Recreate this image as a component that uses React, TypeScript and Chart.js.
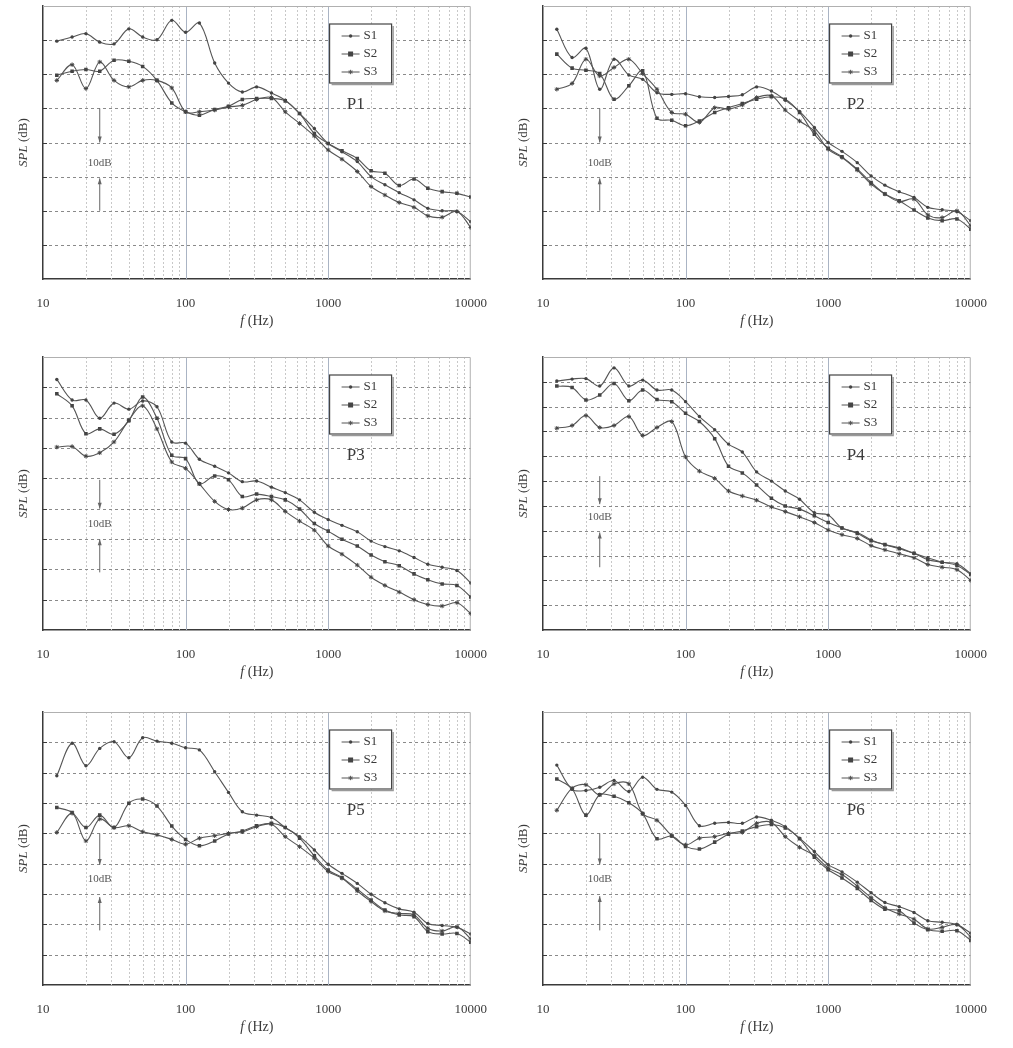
import React, { useEffect, useRef } from "react";
import { Chart, registerables } from "chart.js";
Chart.register(...registerables);

const FREQ = [12.5, 16, 20, 25, 31.5, 40, 50, 63, 80, 100, 125, 160, 200, 250, 315, 400, 500, 630, 800, 1000, 1250, 1600, 2000, 2500, 3150, 4000, 5000, 6300, 8000, 10000];
const X_TICKS = [10, 20, 30, 40, 50, 60, 70, 80, 90, 100, 200, 300, 400, 500, 600, 700, 800, 900, 1000, 2000, 3000, 4000, 5000, 6000, 7000, 8000, 9000, 10000];
const SERIES_NAMES = ["S1", "S2", "S3"];
const PANEL_NAMES = ["P1", "P2", "P3", "P4", "P5", "P6"];
const Y_MAX = [8, 8, 9, 11, 9, 9];

const P1_S1 = [6.97, 7.09, 7.19, 6.94, 6.89, 7.33, 7.09, 7.01, 7.58, 7.23, 7.5, 6.33, 5.74, 5.48, 5.63, 5.45, 5.24, 4.85, 4.41, 3.97, 3.73, 3.44, 3.0, 2.76, 2.53, 2.32, 2.07, 2.0, 1.98, 1.68];
const P1_S2 = [5.97, 6.09, 6.14, 6.09, 6.41, 6.38, 6.23, 5.82, 5.16, 4.9, 4.8, 4.97, 5.06, 5.26, 5.29, 5.29, 5.22, 4.85, 4.26, 3.97, 3.76, 3.53, 3.17, 3.1, 2.74, 2.93, 2.66, 2.56, 2.51, 2.4];
const P1_S3 = [5.82, 6.28, 5.58, 6.36, 5.82, 5.63, 5.82, 5.82, 5.6, 4.9, 4.9, 4.95, 5.04, 5.09, 5.26, 5.32, 4.9, 4.56, 4.19, 3.78, 3.51, 3.15, 2.71, 2.46, 2.24, 2.1, 1.85, 1.81, 1.98, 1.51];

const P2_S1 = [7.32, 6.49, 6.76, 5.56, 6.44, 5.98, 5.85, 5.46, 5.41, 5.43, 5.34, 5.32, 5.35, 5.4, 5.63, 5.51, 5.24, 4.91, 4.44, 4.0, 3.74, 3.41, 3.02, 2.75, 2.56, 2.39, 2.1, 2.03, 1.97, 1.71];
const P2_S2 = [6.59, 6.18, 6.12, 6.02, 5.27, 5.66, 6.1, 4.71, 4.65, 4.49, 4.63, 4.88, 5.02, 5.14, 5.27, 5.34, 5.27, 4.88, 4.24, 3.83, 3.58, 3.22, 2.83, 2.49, 2.29, 2.02, 1.79, 1.71, 1.76, 1.46];
const P2_S3 = [5.56, 5.73, 6.44, 5.95, 6.2, 6.44, 6.02, 5.56, 4.88, 4.83, 4.59, 5.02, 4.98, 5.1, 5.32, 5.37, 4.95, 4.63, 4.34, 3.8, 3.56, 3.19, 2.78, 2.49, 2.27, 2.34, 1.88, 1.8, 2.0, 1.56];

const P3_S1 = [8.26, 7.58, 7.58, 6.98, 7.48, 7.28, 7.55, 7.36, 6.2, 6.16, 5.63, 5.4, 5.18, 4.89, 4.91, 4.71, 4.53, 4.29, 3.88, 3.64, 3.45, 3.24, 2.93, 2.75, 2.61, 2.39, 2.17, 2.07, 1.96, 1.55];
const P3_S2 = [7.79, 7.39, 6.47, 6.63, 6.45, 6.9, 7.68, 6.98, 5.76, 5.65, 4.82, 5.08, 4.95, 4.4, 4.48, 4.4, 4.29, 3.99, 3.51, 3.26, 2.99, 2.77, 2.47, 2.25, 2.12, 1.85, 1.66, 1.52, 1.47, 1.09];
const P3_S3 = [6.03, 6.05, 5.73, 5.84, 6.2, 6.92, 7.39, 6.63, 5.54, 5.33, 4.82, 4.24, 3.97, 4.02, 4.29, 4.29, 3.91, 3.59, 3.29, 2.77, 2.5, 2.14, 1.74, 1.47, 1.25, 1.0, 0.84, 0.79, 0.9, 0.54];

const P4_S1 = [10.03, 10.11, 10.13, 9.83, 10.56, 9.83, 10.07, 9.67, 9.67, 9.2, 8.6, 8.07, 7.49, 7.17, 6.37, 6.0, 5.6, 5.27, 4.73, 4.63, 4.11, 3.93, 3.63, 3.44, 3.31, 3.09, 2.91, 2.73, 2.67, 2.27];
const P4_S2 = [9.83, 9.77, 9.27, 9.47, 9.93, 9.24, 9.67, 9.29, 9.2, 8.73, 8.4, 7.71, 6.6, 6.33, 5.84, 5.31, 5.0, 4.87, 4.6, 4.33, 4.11, 3.89, 3.6, 3.44, 3.27, 3.09, 2.83, 2.73, 2.6, 2.24];
const P4_S3 = [8.13, 8.24, 8.64, 8.16, 8.24, 8.6, 7.84, 8.16, 8.4, 6.97, 6.4, 6.11, 5.6, 5.4, 5.23, 4.96, 4.77, 4.56, 4.33, 4.03, 3.84, 3.69, 3.4, 3.23, 3.07, 2.91, 2.64, 2.53, 2.43, 2.0];

const P5_S1 = [6.9, 7.97, 7.23, 7.8, 8.02, 7.49, 8.15, 8.04, 7.97, 7.82, 7.75, 7.03, 6.35, 5.71, 5.6, 5.52, 5.19, 4.89, 4.45, 3.98, 3.68, 3.35, 2.99, 2.71, 2.51, 2.4, 2.03, 1.96, 1.9, 1.68];
const P5_S2 = [5.85, 5.69, 5.19, 5.6, 5.19, 5.99, 6.13, 5.9, 5.24, 4.8, 4.59, 4.75, 4.98, 5.08, 5.25, 5.33, 5.19, 4.84, 4.26, 3.79, 3.54, 3.16, 2.8, 2.47, 2.31, 2.25, 1.76, 1.68, 1.7, 1.41];
const P5_S3 = [5.03, 5.66, 4.75, 5.47, 5.19, 5.25, 5.05, 4.95, 4.8, 4.64, 4.84, 4.92, 5.0, 5.05, 5.22, 5.3, 4.89, 4.56, 4.18, 3.74, 3.52, 3.1, 2.75, 2.44, 2.36, 2.31, 1.87, 1.78, 1.92, 1.52];

const P6_S1 = [7.25, 6.45, 6.41, 6.52, 6.74, 6.38, 6.85, 6.45, 6.36, 5.92, 5.25, 5.33, 5.36, 5.33, 5.54, 5.43, 5.22, 4.84, 4.4, 3.97, 3.73, 3.39, 3.04, 2.72, 2.58, 2.39, 2.12, 2.07, 1.99, 1.71];
const P6_S2 = [6.79, 6.47, 5.6, 6.27, 6.22, 6.01, 5.65, 4.82, 4.91, 4.57, 4.48, 4.71, 4.97, 5.08, 5.22, 5.29, 5.18, 4.82, 4.21, 3.8, 3.53, 3.18, 2.79, 2.5, 2.45, 2.04, 1.82, 1.77, 1.79, 1.47];
const P6_S3 = [5.76, 6.49, 6.6, 6.27, 6.63, 6.63, 5.65, 5.43, 4.92, 4.62, 4.84, 4.89, 5.0, 5.03, 5.33, 5.36, 4.89, 4.54, 4.27, 3.86, 3.64, 3.26, 2.88, 2.55, 2.34, 2.17, 1.85, 1.9, 1.99, 1.58];

const PANEL_DATA = [
  [P1_S1, P1_S2, P1_S3],
  [P2_S1, P2_S2, P2_S3],
  [P3_S1, P3_S2, P3_S3],
  [P4_S1, P4_S2, P4_S3],
  [P5_S1, P5_S2, P5_S3],
  [P6_S1, P6_S2, P6_S3],
];
// 10dB annotation: [arrowTopStart, arrowTopEnd, text, arrowBottomStart, arrowBottomEnd] in y units
const ANNOT = [
  [5, 4, 3.4, 2, 2.95],
  [5, 4, 3.4, 2, 2.95],
  [4.95, 4.0, 3.48, 1.9, 2.99],
  [6.2, 5.07, 4.53, 2.53, 3.93],
  [5.0, 3.96, 3.5, 1.8, 2.9],
  [5.0, 3.97, 3.5, 1.8, 2.93],
];

const INK = "#3a3a3a";
const SERIF = "'Liberation Serif', 'DejaVu Serif', serif";
const POINT_STYLES = ["circle", "rect", "star"];
const POINT_R = [1.7, 2.5, 2.2];

function drawMarker(ctx: CanvasRenderingContext2D, style: string, x: number, y: number, r: number) {
  ctx.beginPath();
  if (style === "circle") { ctx.arc(x, y, r, 0, Math.PI * 2); ctx.fill(); }
  else if (style === "rect") { ctx.fillRect(x - r, y - r, 2 * r, 2 * r); }
  else {
    ctx.moveTo(x - r, y); ctx.lineTo(x + r, y); ctx.moveTo(x, y - r); ctx.lineTo(x, y + r);
    ctx.moveTo(x - r * 0.7, y - r * 0.7); ctx.lineTo(x + r * 0.7, y + r * 0.7);
    ctx.moveTo(x - r * 0.7, y + r * 0.7); ctx.lineTo(x + r * 0.7, y - r * 0.7);
    ctx.stroke();
  }
}

function arrow(ctx: CanvasRenderingContext2D, x: number, y0: number, y1: number) {
  ctx.beginPath(); ctx.moveTo(x, y0); ctx.lineTo(x, y1); ctx.stroke();
  const d = y1 > y0 ? -1 : 1;
  ctx.beginPath(); ctx.moveTo(x, y1); ctx.lineTo(x - 2, y1 + d * 6); ctx.lineTo(x + 2, y1 + d * 6); ctx.closePath(); ctx.fill();
}

function makePlugin(idx: number) {
  return {
    id: "deco" + idx,
    beforeDatasetsDraw(chart: any) {
      const { ctx, chartArea: a, scales } = chart;
      const xs = scales.x, ys = scales.y;
      ctx.save();
      ctx.lineWidth = 1;
      for (const v of X_TICKS) {
        const px = Math.round(xs.getPixelForValue(v)) + 0.5;
        const major = Math.abs(Math.log10(v) - Math.round(Math.log10(v))) < 1e-9;
        if (v === 10 || v === 10000) continue;
        ctx.strokeStyle = major ? "#aab4c4" : "#c8c8c8";
        ctx.setLineDash(major ? [] : [2, 2]);
        ctx.beginPath(); ctx.moveTo(px, a.top); ctx.lineTo(px, a.bottom); ctx.stroke();
      }
      for (let v = 1; v < Y_MAX[idx]; v++) {
        const py = Math.round(ys.getPixelForValue(v)) + 0.5;
        ctx.strokeStyle = "#8a8a8a"; ctx.setLineDash([3, 3]);
        ctx.beginPath(); ctx.moveTo(a.left, py); ctx.lineTo(a.right, py); ctx.stroke();
        ctx.setLineDash([]); ctx.strokeStyle = INK;
        ctx.beginPath(); ctx.moveTo(a.left, py); ctx.lineTo(a.left + 4, py); ctx.stroke();
      }
      ctx.setLineDash([]);
      ctx.strokeStyle = "#b0b0b0";
      ctx.beginPath(); ctx.moveTo(a.left, a.top + 0.5); ctx.lineTo(a.right - 0.5, a.top + 0.5); ctx.lineTo(a.right - 0.5, a.bottom); ctx.stroke();
      ctx.restore();
    },
    afterDraw(chart: any) {
      const { ctx, chartArea: a, scales } = chart;
      const xs = scales.x, ys = scales.y;
      const w = a.right - a.left;
      ctx.save();
      const bx = a.left + 0.67 * w, by = a.top + 18, bw = 62, bh = 59;
      ctx.fillStyle = "#fff"; ctx.fillRect(bx, by, bw, bh);
      ctx.strokeStyle = "#444"; ctx.lineWidth = 1.2; ctx.strokeRect(bx, by, bw, bh);
      ctx.strokeStyle = "#999"; ctx.lineWidth = 1.5;
      ctx.beginPath(); ctx.moveTo(bx + 2, by + bh + 1.5); ctx.lineTo(bx + bw + 1.5, by + bh + 1.5); ctx.lineTo(bx + bw + 1.5, by + 2); ctx.stroke();
      ctx.font = "13px " + SERIF; ctx.textBaseline = "middle"; ctx.textAlign = "left";
      for (let s = 0; s < 3; s++) {
        const yy = by + 12 + s * 18;
        ctx.strokeStyle = "#555"; ctx.fillStyle = "#444"; ctx.lineWidth = 1;
        ctx.beginPath(); ctx.moveTo(bx + 12, yy); ctx.lineTo(bx + 30, yy); ctx.stroke();
        drawMarker(ctx, POINT_STYLES[s], bx + 21, yy, POINT_R[s]);
        ctx.fillStyle = INK; ctx.fillText(SERIES_NAMES[s], bx + 34, yy);
      }
      ctx.font = "17px " + SERIF; ctx.fillStyle = INK;
      ctx.fillText(PANEL_NAMES[idx], a.left + 0.71 * w, a.top + 99);
      const an = ANNOT[idx];
      const ax = xs.getPixelForValue(25);
      ctx.strokeStyle = "#666"; ctx.fillStyle = "#666"; ctx.lineWidth = 1;
      arrow(ctx, ax, ys.getPixelForValue(an[0]), ys.getPixelForValue(an[1]));
      arrow(ctx, ax, ys.getPixelForValue(an[3]), ys.getPixelForValue(an[4]));
      ctx.font = "11px " + SERIF; ctx.textAlign = "center"; ctx.fillStyle = "#555";
      ctx.fillText("10dB", ax, ys.getPixelForValue(an[2]));
      ctx.save();
      ctx.translate(24, (a.top + a.bottom) / 2);
      ctx.rotate(-Math.PI / 2);
      ctx.fillStyle = INK; ctx.textAlign = "left";
      ctx.font = "italic 13px " + SERIF;
      const t1 = "SPL";
      const t2 = " (dB)";
      const w1 = ctx.measureText(t1).width;
      ctx.font = "13px " + SERIF;
      const w2 = ctx.measureText(t2).width;
      ctx.font = "italic 13px " + SERIF;
      ctx.fillText(t1, -(w1 + w2) / 2, 0);
      ctx.font = "13px " + SERIF;
      ctx.fillText(t2, -(w1 + w2) / 2 + w1, 0);
      ctx.restore();
      ctx.fillStyle = INK; ctx.textAlign = "left";
      ctx.font = "italic 14px " + SERIF;
      const f1 = "f", f2 = " (Hz)";
      const fw1 = ctx.measureText(f1).width;
      ctx.font = "14px " + SERIF;
      const fw2 = ctx.measureText(f2).width;
      const cx = (a.left + a.right) / 2 - (fw1 + fw2) / 2;
      ctx.font = "italic 14px " + SERIF; ctx.fillText(f1, cx, a.bottom + 42);
      ctx.font = "14px " + SERIF; ctx.fillText(f2, cx + fw1, a.bottom + 42);
      ctx.restore();
    },
  };
}

function Panel({ idx, left, top }: { idx: number; left: number; top: number }) {
  const ref = useRef<HTMLCanvasElement>(null);
  useEffect(() => {
    const datasets = PANEL_DATA[idx].map((vals, s) => ({
      label: SERIES_NAMES[s],
      data: FREQ.map((f, i) => ({ x: f, y: vals[i] })),
      borderColor: "#555",
      backgroundColor: "#444",
      borderWidth: 1.1,
      pointStyle: POINT_STYLES[s],
      pointRadius: POINT_R[s],
      pointBorderWidth: s === 2 ? 1 : 0,
      pointBorderColor: "#444",
      tension: 0.35,
    }));
    const chart = new Chart(ref.current!, {
      type: "line",
      data: { datasets },
      options: {
        animation: false,
        responsive: false,
        layout: { padding: { top: 6, right: 29, left: 0, bottom: 0 } },
        plugins: { legend: { display: false }, tooltip: { enabled: false } },
        scales: {
          x: {
            type: "logarithmic", min: 10, max: 10000,
            afterBuildTicks: (s: any) => { s.ticks = X_TICKS.map((v) => ({ value: v })); },
            afterFit: (s: any) => { s.height = 51; },
            ticks: {
              autoSkip: false, maxRotation: 0, padding: 17, color: INK,
              font: { family: SERIF, size: 13 },
              callback: (v: any) => { const l = Math.log10(Number(v)); return Math.abs(l - Math.round(l)) < 1e-9 ? String(v) : ""; },
            },
            grid: { display: false, drawTicks: false },
            border: { color: INK, width: 1.5 },
          },
          y: {
            min: 0, max: Y_MAX[idx],
            afterFit: (s: any) => { s.width = 43; },
            ticks: { display: false },
            grid: { display: false, drawTicks: false },
            border: { color: INK, width: 1.5 },
          },
        },
      },
      plugins: [makePlugin(idx)],
    });
    return () => chart.destroy();
  }, [idx]);
  return <canvas ref={ref} width={504} height={330} style={{ position: "absolute", left, top, width: 504, height: 330 }} />;
}

export default function App() {
  const tops = [0, 351, 706];
  return (
    <div style={{ position: "fixed", left: 0, top: 0, width: 1013, height: 1048, background: "#fff", overflow: "hidden" }}>
      {PANEL_NAMES.map((_, i) => (
        <Panel key={i} idx={i} left={(i % 2) * 500} top={tops[Math.floor(i / 2)]} />
      ))}
    </div>
  );
}
